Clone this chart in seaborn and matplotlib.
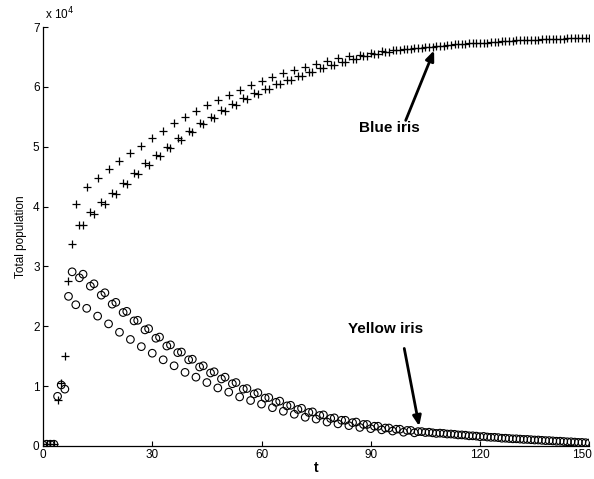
import numpy as np
import pandas as pd
import matplotlib
matplotlib.use("Agg")
import matplotlib.pyplot as plt
import matplotlib.transforms as mtransforms
from matplotlib.ticker import FuncFormatter
import seaborn as sns

# time steps
t = list(range(0, 151))

# Blue iris total population (units of 1e4)
blue = [
    0.03, 0.03, 0.04, 0.04, 0.77, 1.06, 1.50, 2.75, 3.38, 4.04,
    3.70, 3.70, 4.32, 3.91, 3.87, 4.47, 4.07, 4.05, 4.62, 4.23,
    4.21, 4.76, 4.40, 4.37, 4.89, 4.56, 4.54, 5.01, 4.72, 4.69,
    5.15, 4.86, 4.84, 5.27, 5.00, 4.98, 5.39, 5.14, 5.12, 5.49,
    5.27, 5.25, 5.59, 5.40, 5.38, 5.69, 5.50, 5.48, 5.78, 5.61,
    5.59, 5.87, 5.72, 5.70, 5.95, 5.81, 5.79, 6.03, 5.90, 5.88,
    6.09, 5.97, 5.97, 6.17, 6.04, 6.04, 6.24, 6.11, 6.11, 6.29,
    6.18, 6.18, 6.33, 6.25, 6.25, 6.39, 6.32, 6.32, 6.43, 6.37,
    6.37, 6.48, 6.42, 6.42, 6.52, 6.47, 6.47, 6.54, 6.51, 6.51,
    6.57, 6.55, 6.55, 6.60, 6.58, 6.58, 6.62, 6.61, 6.61, 6.64,
    6.63, 6.63, 6.655, 6.65, 6.65, 6.665, 6.665, 6.67, 6.68, 6.68,
    6.69, 6.695, 6.70, 6.71, 6.71, 6.72, 6.72, 6.725, 6.73, 6.73,
    6.735, 6.74, 6.74, 6.745, 6.75, 6.755, 6.76, 6.76, 6.765, 6.77,
    6.775, 6.78, 6.78, 6.785, 6.785, 6.79, 6.79, 6.795, 6.795, 6.80,
    6.80, 6.80, 6.805, 6.805, 6.81, 6.81, 6.81, 6.81, 6.815, 6.815,
    6.82,
]

# Yellow iris total population (units of 1e4)
yellow = [
    0.02, 0.03, 0.03, 0.03, 0.83, 1.02, 0.95, 2.50, 2.91, 2.36,
    2.81, 2.87, 2.30, 2.67, 2.71, 2.17, 2.52, 2.56, 2.04, 2.37,
    2.40, 1.90, 2.23, 2.25, 1.78, 2.09, 2.10, 1.66, 1.94, 1.96,
    1.55, 1.80, 1.82, 1.44, 1.67, 1.69, 1.34, 1.56, 1.57, 1.23,
    1.44, 1.45, 1.15, 1.32, 1.34, 1.06, 1.22, 1.24, 0.97, 1.12,
    1.15, 0.90, 1.04, 1.06, 0.82, 0.95, 0.96, 0.76, 0.87, 0.89,
    0.70, 0.80, 0.81, 0.64, 0.73, 0.75, 0.58, 0.67, 0.68, 0.53,
    0.61, 0.63, 0.48, 0.56, 0.57, 0.45, 0.51, 0.52, 0.40, 0.46,
    0.47, 0.37, 0.43, 0.43, 0.34, 0.39, 0.40, 0.31, 0.36, 0.36,
    0.29, 0.33, 0.33, 0.27, 0.30, 0.30, 0.25, 0.28, 0.28, 0.23,
    0.26, 0.26, 0.22, 0.24, 0.24, 0.225, 0.23, 0.22, 0.21, 0.215,
    0.21, 0.20, 0.20, 0.195, 0.185, 0.185, 0.18, 0.17, 0.17, 0.165,
    0.155, 0.16, 0.15, 0.145, 0.145, 0.14, 0.13, 0.13, 0.125, 0.12,
    0.12, 0.115, 0.11, 0.11, 0.105, 0.10, 0.10, 0.095, 0.09, 0.09,
    0.085, 0.08, 0.08, 0.075, 0.07, 0.07, 0.065, 0.06, 0.06, 0.055,
    0.05,
]

x_ticks = [0, 30, 60, 90, 120, 150]
y_ticks = [0, 1, 2, 3, 4, 5, 6, 7]
scale = 1e4

sns.set_style("white")
plt.rcParams["font.family"] = ["Liberation Sans", "DejaVu Sans"]
plt.rcParams["xtick.direction"] = "in"
plt.rcParams["ytick.direction"] = "in"
plt.rcParams["text.color"] = "black"
plt.rcParams["axes.labelcolor"] = "black"

df = pd.DataFrame({
    "t": t,
    "blue": np.array(blue) * scale,
    "yellow": np.array(yellow) * scale,
})

fig = plt.figure(figsize=(5.94, 4.79), dpi=100)
ax = fig.add_axes([0.0724, 0.0689, 0.9196, 0.8747])

sns.scatterplot(data=df, x="t", y="blue", marker="+", s=30, color="black",
                linewidth=0.9, ax=ax, zorder=3)
sns.scatterplot(data=df, x="t", y="yellow", marker="o", s=30,
                facecolor="none", edgecolor="black", linewidth=0.8,
                ax=ax, zorder=3)

ax.set_xlim(0, 150)
ax.set_ylim(0, 7 * scale)
ax.set_xticks(x_ticks)
ax.set_yticks([v * scale for v in y_ticks])
ax.yaxis.set_major_formatter(FuncFormatter(lambda v, p: f"{int(round(v / scale))}"))

for side in ["top", "right"]:
    ax.spines[side].set_visible(False)
for side in ["left", "bottom"]:
    ax.spines[side].set_linewidth(0.9)
    ax.spines[side].set_color("black")

ax.tick_params(axis="both", which="major", labelsize=8.5, length=3.5,
               width=0.8, colors="black", pad=2.5, left=True, bottom=True)

# nudge the last x tick label so it stays inside the canvas
last_lbl = ax.get_xticklabels()[-1]
last_lbl.set_transform(last_lbl.get_transform() +
                       mtransforms.ScaledTranslation(-5 / 72, 0, fig.dpi_scale_trans))

ax.set_xlabel("t", fontsize=10, fontweight="bold", labelpad=0, color="black")
ax.set_ylabel("Total population", fontsize=8.5, labelpad=4, color="black")

ax.text(0.003, 1.012, r"x 10$^{4}$", transform=ax.transAxes, fontsize=8.5,
        ha="left", va="bottom", color="black")

ax.annotate("", xy=(107.4, 6.61 * scale), xytext=(99.6, 5.44 * scale),
            arrowprops=dict(arrowstyle="-|>,head_length=0.6,head_width=0.25",
                            color="black", lw=2, shrinkA=0, shrinkB=0))
ax.text(95, 5.31 * scale, "Blue iris", fontsize=11, fontweight="bold",
        ha="center", va="center", color="black")

ax.annotate("", xy=(103.3, 0.33 * scale), xytext=(99.2, 1.63 * scale),
            arrowprops=dict(arrowstyle="-|>,head_length=0.6,head_width=0.25",
                            color="black", lw=2, shrinkA=0, shrinkB=0))
ax.text(94, 1.95 * scale, "Yellow iris", fontsize=11, fontweight="bold",
        ha="center", va="center", color="black")

fig.savefig("out.png", dpi=100)
